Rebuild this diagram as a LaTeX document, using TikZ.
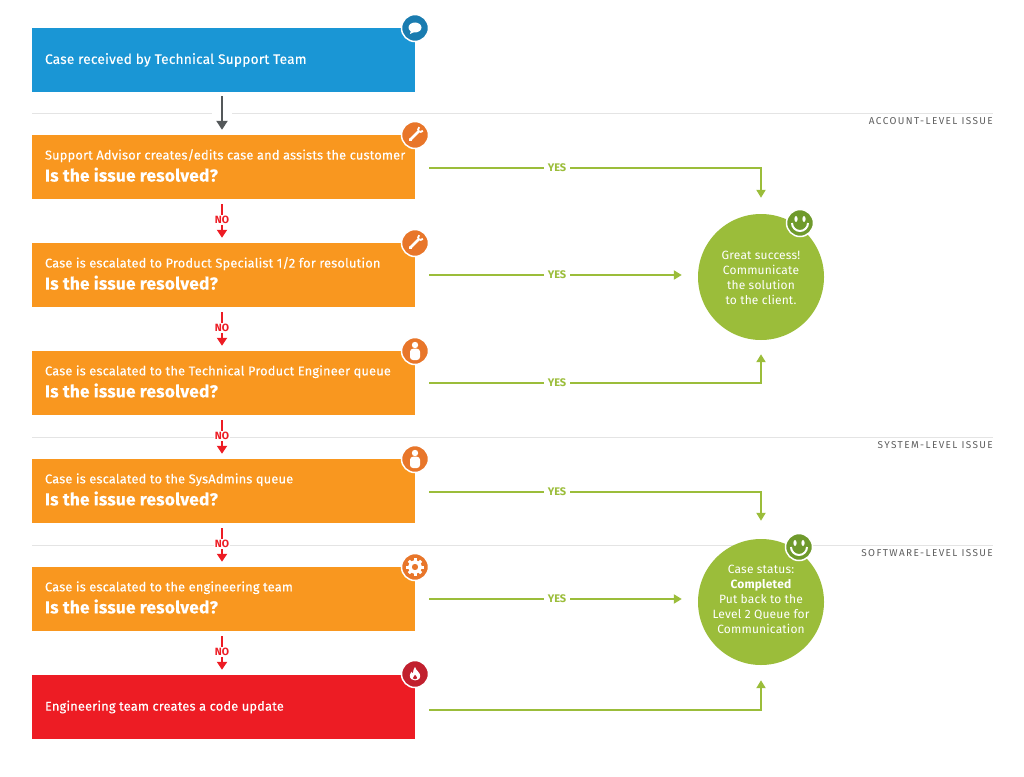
\documentclass[tikz,border=0pt]{standalone}
\usepackage{fontspec}
\setmainfont{Fira Sans}
\usetikzlibrary{arrows.meta}
\definecolor{caseblue}{HTML}{1A96D5}
\definecolor{caseorange}{HTML}{F9971F}
\definecolor{casered}{HTML}{ED1C24}
\definecolor{casegreen}{HTML}{9BBD3A}
\definecolor{badgeblue}{HTML}{1A7CB0}
\definecolor{badgeorange}{HTML}{E8762A}
\definecolor{badgered}{HTML}{C1202E}
\definecolor{badgegreen}{HTML}{6F9A2C}
\definecolor{arrowgrey}{HTML}{54585A}
\definecolor{sepgrey}{HTML}{E4E4E4}
\definecolor{levelgrey}{HTML}{5F5F5F}
\newcommand{\caseq}{{\fontsize{17.2}{20}\selectfont\bfseries Is the issue resolved?}}
\tikzset{
  stepbox/.style={fill=#1, minimum width=383pt, minimum height=64pt, inner sep=0pt},
  steptext/.style={anchor=west, xshift=13pt, align=left, inner sep=0pt, text=white, font=\fontsize{12.8}{20}\selectfont\addfontfeature{LetterSpace=1.5,FakeBold=0.2}},
  twoline/.style={yshift=1.5pt},
  endcircle/.style={circle, fill=casegreen, minimum size=126pt, inner sep=0pt},
  endtext/.style={align=center, inner sep=0pt, text=white, font=\fontsize{12}{15}\selectfont\addfontfeature{LetterSpace=1.5}},
  badge/.style={circle, fill=#1, draw=white, line width=1.5pt, minimum size=27pt, inner sep=0pt},
  sepline/.style={draw=sepgrey, line width=1pt},
  leveltext/.style={anchor=east, inner sep=0pt, text=levelgrey, font=\fontsize{10}{10}\selectfont\addfontfeature{LetterSpace=14}},
  yesline/.style={draw=casegreen, line width=2.4pt, >={Triangle[width=9pt,length=8pt]}},
  yesnode/.style={fill=white, inner xsep=4pt, inner ysep=2pt, text=casegreen, font=\fontsize{11}{11}\selectfont\bfseries},
  noline/.style={draw=casered, line width=2pt, >={Triangle[width=10pt,length=8pt]}},
  nonode/.style={fill=white, inner xsep=1pt, inner ysep=1pt, text=casered, font=\fontsize{10.5}{10}\selectfont\bfseries},
  startline/.style={draw=arrowgrey, line width=2.5pt, >={Triangle[width=11pt,length=9pt]}},
  pics/speech/.style={code={
    \fill[white] (0,-0.5) ellipse (6.5pt and 5pt);
    \fill[white] (-4,2) -- (-5,6) -- (0,3.5) -- cycle;
  }},
  pics/wrench/.style={code={
    \begin{scope}[rotate=-45]
      \fill[white] (-1.3,-5) rectangle (1.3,6.5);
      \fill[white] (0,6.5) circle (1.9pt);
      \draw[white, line width=1.8pt] (-2.6,-8.5) arc (180:0:2.6 and 3.2);
    \end{scope}
  }},
  pics/person/.style={code={
    \fill[white] (0,-6) circle (3.2pt);
    \fill[white, rounded corners=3pt] (-5,-2.3) rectangle (5,9);
  }},
  pics/gear/.style={code={
    \draw[white, line width=3.6pt] (0,0) circle (5.2pt);
    \foreach \a in {0,45,...,315}
      \draw[white, line width=3pt] (\a:5.5pt) -- (\a:8.7pt);
  }},
  pics/flame/.style={code={
    \begin{scope}[scale=0.8]
    \fill[white] (0,-9) .. controls (1,-4) and (7,-2) .. (6.5,3) .. controls (6,7) and (2,8) .. (0,8) .. controls (-3,8) and (-6.5,6) .. (-6.5,2) .. controls (-6.5,0) and (-5,-2) .. (-4,-3) .. controls (-4,-1) and (-3,-1) .. (-2.5,-1) .. controls (-3,-4) and (-1,-7) .. (0,-9) -- cycle;
    \fill[badgered] (0,1) .. controls (2,3) and (2.5,4) .. (2.5,5) .. controls (2.5,7) and (-2.5,7) .. (-2.5,5) .. controls (-2.5,4) and (-1,3) .. (0,1) -- cycle;
    \end{scope}
  }},
  pics/smiley/.style={code={
    \fill[white] (-4,-4) ellipse (1.6pt and 3pt);
    \fill[white] (4,-4) ellipse (1.6pt and 3pt);
    \draw[white, line width=2pt] (-8,0) arc (180:0:8 and 8);
  }}
}
\begin{document}
\begin{tikzpicture}[x=1pt, y=-1pt]
\useasboundingbox (0,0) rectangle (1024,776);
% separators
\draw[sepline] (32,113) -- (212,113) (232,113) -- (993,113);
\draw[sepline] (32,437) -- (993,437);
\draw[sepline] (32,545) -- (993,545);
\node[leveltext] (account) at (993,121) {ACCOUNT-LEVEL ISSUE};
\node[leveltext] (system) at (993,445) {SYSTEM-LEVEL ISSUE};
\node[leveltext] (software) at (993,553) {SOFTWARE-LEVEL ISSUE};
% boxes
\node[stepbox=caseblue] (received) at (223.5,60) {};
\node[stepbox=caseorange] (advisor) at (223.5,167) {};
\node[stepbox=caseorange] (specialist) at (223.5,275) {};
\node[stepbox=caseorange] (engineer) at (223.5,383) {};
\node[stepbox=caseorange] (sysadmins) at (223.5,491) {};
\node[stepbox=caseorange] (engteam) at (223.5,599) {};
\node[stepbox=casered] (update) at (223.5,707) {};
\node[steptext, font=\fontsize{13.7}{20}\selectfont\addfontfeature{LetterSpace=1.5,FakeBold=0.2}] (received text) at (received.west) {Case received by Technical Support Team};
\node[steptext, twoline] (advisor text) at (advisor.west) {Support Advisor creates/edits case and assists the customer\\[2pt]\caseq};
\node[steptext, twoline] (specialist text) at (specialist.west) {Case is escalated to Product Specialist 1/2 for resolution\\[2pt]\caseq};
\node[steptext, twoline] (engineer text) at (engineer.west) {Case is escalated to the Technical Product Engineer queue\\[2pt]\caseq};
\node[steptext, twoline] (sysadmins text) at (sysadmins.west) {Case is escalated to the SysAdmins queue\\[2pt]\caseq};
\node[steptext, twoline] (engteam text) at (engteam.west) {Case is escalated to the engineering team\\[2pt]\caseq};
\node[steptext] (update text) at (update.west) {Engineering team creates a code update};
% end circles
\node[endcircle] (success) at (761,277) {};
\node[endcircle] (completed) at (761,602) {};
\node[endtext] (success text) at (761,278) {Great success!\\Communicate\\the solution\\to the client.};
\node[endtext] (completed text) at (761,599) {Case status:\\\textbf{Completed}\\Put back to the\\Level 2 Queue for\\Communication};
% badges
\node[badge=badgeblue] (b0) at (415,28) {};
\node[badge=badgeorange] (b1) at (415,135) {};
\node[badge=badgeorange] (b2) at (415,243) {};
\node[badge=badgeorange] (b3) at (415,351) {};
\node[badge=badgeorange] (b4) at (415,459) {};
\node[badge=badgeorange] (b5) at (415,567) {};
\node[badge=badgered] (b6) at (415,674) {};
\node[badge=badgegreen] (b7) at (800,223) {};
\node[badge=badgegreen] (b8) at (799,547) {};
\pic at (b0) {speech};
\pic at (b1) {wrench};
\pic at (b2) {wrench};
\pic at (b3) {person};
\pic at (b4) {person};
\pic at (b5) {gear};
\pic at (b6) {flame};
\pic at (b7) {smiley};
\pic at (b8) {smiley};
% start arrow
\coordinate (down) at (222,100);
\draw[startline, ->, shorten <=4pt, shorten >=5pt] (received.south -| down) -- (advisor.north -| down);
% no arrows
\node[nonode] (no1) at (222,220) {NO};
\node[nonode] (no2) at (222,328) {NO};
\node[nonode] (no3) at (222,436) {NO};
\node[nonode] (no4) at (222,544) {NO};
\node[nonode] (no5) at (222,652) {NO};
\draw[noline, shorten <=5pt] (advisor.south -| no1) -- (no1);
\draw[noline, ->, shorten >=5pt] (no1) -- (specialist.north -| no1);
\draw[noline, shorten <=5pt] (specialist.south -| no2) -- (no2);
\draw[noline, ->, shorten >=5pt] (no2) -- (engineer.north -| no2);
\draw[noline, shorten <=5pt] (engineer.south -| no3) -- (no3);
\draw[noline, ->, shorten >=5pt] (no3) -- (sysadmins.north -| no3);
\draw[noline, shorten <=5pt] (sysadmins.south -| no4) -- (no4);
\draw[noline, ->, shorten >=5pt] (no4) -- (engteam.north -| no4);
\draw[noline, shorten <=5pt] (engteam.south -| no5) -- (no5);
\draw[noline, ->, shorten >=5pt] (no5) -- (update.north -| no5);
% yes arrows
\node[yesnode] (yes1) at (557,168) {YES};
\node[yesnode] (yes2) at (557,275) {YES};
\node[yesnode] (yes3) at (557,383) {YES};
\node[yesnode] (yes4) at (557,492) {YES};
\node[yesnode] (yes5) at (557,599) {YES};
\draw[yesline, shorten <=14pt] (advisor.east |- yes1) -- (yes1);
\draw[yesline, ->, shorten >=16pt] (yes1) -| (success);
\draw[yesline, shorten <=14pt] (specialist.east) -- (yes2);
\draw[yesline, ->, shorten >=16pt] (yes2) -- (yes2 -| success.west);
\draw[yesline, shorten <=14pt] (engineer.east) -- (yes3);
\draw[yesline, ->, shorten >=14pt] (yes3) -| (success);
\draw[yesline, shorten <=14pt] (sysadmins.east |- yes4) -- (yes4);
\draw[yesline, ->, shorten >=18pt] (yes4) -| (completed);
\draw[yesline, shorten <=14pt] (engteam.east) -- (yes5);
\draw[yesline, ->, shorten >=16pt] (yes5) -- (yes5 -| completed.west);
\draw[yesline, ->, shorten <=14pt, shorten >=15pt] ([yshift=-3pt]update.east) -| (completed);
\end{tikzpicture}
\end{document}
